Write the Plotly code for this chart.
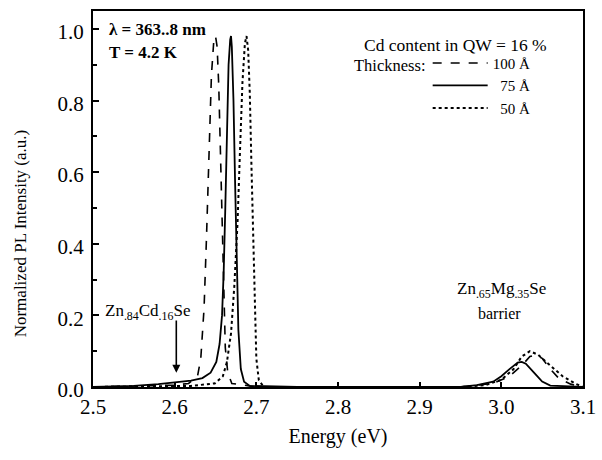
import plotly.graph_objects as go

# 100 Å (dashed)
e100 = [2.50, 2.58, 2.60, 2.617, 2.628, 2.632, 2.636, 2.639, 2.642, 2.645, 2.648, 2.650, 2.652, 2.654, 2.656, 2.658,
        2.660, 2.662, 2.665, 2.670, 2.70, 2.95, 2.99, 3.01, 3.025, 3.035, 3.042, 3.05, 3.06, 3.07, 3.085, 3.10]
i100 = [0.0, 0.003, 0.005, 0.01, 0.03, 0.08, 0.22, 0.42, 0.66, 0.87, 0.97, 0.98, 0.95, 0.84, 0.66, 0.45,
        0.25, 0.11, 0.04, 0.01, 0.0, 0.0, 0.01, 0.03, 0.06, 0.085, 0.09, 0.08, 0.05, 0.025, 0.008, 0.0]

# 75 Å (solid)
e75 = [2.50, 2.55, 2.58, 2.60, 2.62, 2.634, 2.644, 2.651, 2.655, 2.658, 2.660, 2.662, 2.664, 2.666, 2.668, 2.669,
       2.670, 2.672, 2.674, 2.676, 2.678, 2.681, 2.685, 2.692, 2.75, 2.95, 2.97, 2.99, 3.00, 3.01, 3.02, 3.025,
       3.03, 3.04, 3.05, 3.06, 3.10]
i75 = [0.0, 0.003, 0.008, 0.012, 0.018, 0.025, 0.04, 0.07, 0.12, 0.2, 0.32, 0.5, 0.72, 0.9, 0.97, 0.98,
       0.95, 0.8, 0.57, 0.34, 0.16, 0.05, 0.015, 0.003, 0.0, 0.0, 0.005, 0.015, 0.03, 0.05, 0.068, 0.07,
       0.065, 0.04, 0.015, 0.004, 0.0]

# 50 Å (dotted)
e50 = [2.50, 2.62, 2.649, 2.659, 2.664, 2.669, 2.673, 2.677, 2.680, 2.683, 2.686, 2.688, 2.690, 2.692, 2.694,
       2.696, 2.698, 2.700, 2.703, 2.709, 2.95, 2.98, 3.00, 3.015, 3.025, 3.035, 3.045, 3.06, 3.075, 3.09, 3.10]
i50 = [0.0, 0.003, 0.01, 0.03, 0.07, 0.15, 0.28, 0.46, 0.66, 0.85, 0.96, 0.98, 0.94, 0.82, 0.62,
       0.42, 0.22, 0.08, 0.02, 0.0, 0.0, 0.005, 0.02, 0.05, 0.085, 0.1, 0.09, 0.06, 0.03, 0.01, 0.0]

x_ticks = [2.5, 2.6, 2.7, 2.8, 2.9, 3.0, 3.1]
y_ticks = [0.0, 0.2, 0.4, 0.6, 0.8, 1.0]

FONT = "Liberation Serif"

fig = go.Figure()
fig.add_trace(go.Scatter(x=e100, y=i100, mode="lines", name="100 Å",
                         line=dict(color="black", width=1.6, dash="dash")))
fig.add_trace(go.Scatter(x=e75, y=i75, mode="lines", name="\u00a0\u00a075 Å",
                         line=dict(color="black", width=1.8, dash="solid")))
fig.add_trace(go.Scatter(x=e50, y=i50, mode="lines", name="\u00a0\u00a050 Å",
                         line=dict(color="black", width=2.0, dash="dot")))

fig.update_layout(
    width=602, height=460,
    margin=dict(l=93, r=6, t=11, b=73),
    paper_bgcolor="white", plot_bgcolor="white",
    font=dict(family=FONT, color="black", size=16),
    showlegend=True,
    legend=dict(x=0.683, y=0.905, xanchor="left", yanchor="top",
                bgcolor="rgba(0,0,0,0)", itemwidth=55,
                font=dict(family=FONT, size=15, color="black"),
                tracegroupgap=0, itemclick=False),
    xaxis=dict(range=[2.5, 3.1], tickvals=x_ticks, ticktext=[f"{v:.1f}" for v in x_ticks],
               showgrid=False, zeroline=False, showline=True, linecolor="black", linewidth=2,
               mirror=True, ticks="inside", ticklen=5, tickwidth=1.5, tickcolor="black",
               ticklabeloverflow="allow",
               tickfont=dict(family=FONT, size=21),
               title=dict(text="Energy (eV)", font=dict(family=FONT, size=20), standoff=11)),
    yaxis=dict(range=[0, 1.05], tickvals=y_ticks, ticktext=[f"{v:.1f}" for v in y_ticks],
               showgrid=False, zeroline=False, showline=True, linecolor="black", linewidth=2,
               mirror=True, ticks="inside", ticklen=6, tickwidth=1.5, tickcolor="black",
               minor=dict(dtick=0.1, ticks="inside", ticklen=4, tickcolor="black"),
               ticklabelshift=3, ticklabelstandoff=3,
               tickfont=dict(family=FONT, size=21)),
)

ann = [
    dict(x=-0.148, y=0.41, xref="paper", yref="paper", text="Normalized PL Intensity (a.u.)",
         textangle=-90, xanchor="center", yanchor="middle", showarrow=False, font=dict(size=17)),
    dict(x=0.028, y=0.95, xref="paper", yref="paper", text="<b>λ = 363..8 nm</b>", xanchor="left",
         yanchor="middle", showarrow=False, font=dict(size=17)),
    dict(x=0.028, y=0.89, xref="paper", yref="paper", text="<b>T = 4.2 K</b>", xanchor="left",
         yanchor="middle", showarrow=False, font=dict(size=17)),
    dict(x=0.74, y=0.909, xref="paper", yref="paper", text="Cd content in QW = 16 %",
         xanchor="center", yanchor="middle", showarrow=False, font=dict(size=17.5)),
    dict(x=0.683, y=0.855, xref="paper", yref="paper", text="Thickness:", xanchor="right",
         yanchor="middle", showarrow=False, font=dict(size=16.5)),
    dict(x=2.567, y=0.21, xref="x", yref="y", text="Zn<sub>.84</sub>Cd<sub>.16</sub>Se",
         xanchor="center", yanchor="middle", showarrow=False, font=dict(size=17)),
    dict(x=2.602, y=0.04, ax=2.602, ay=0.19, xref="x", yref="y", axref="x", ayref="y", text="",
         showarrow=True, arrowhead=2, arrowsize=1, arrowwidth=1.6, arrowcolor="black"),
    dict(x=3.0, y=0.27, xref="x", yref="y", text="Zn<sub>.65</sub>Mg<sub>.35</sub>Se",
         xanchor="center", yanchor="middle", showarrow=False, font=dict(size=17)),
    dict(x=2.998, y=0.205, xref="x", yref="y", text="barrier",
         xanchor="center", yanchor="middle", showarrow=False, font=dict(size=16)),
]
fig.update_layout(annotations=ann)

fig.write_html("out.html")
